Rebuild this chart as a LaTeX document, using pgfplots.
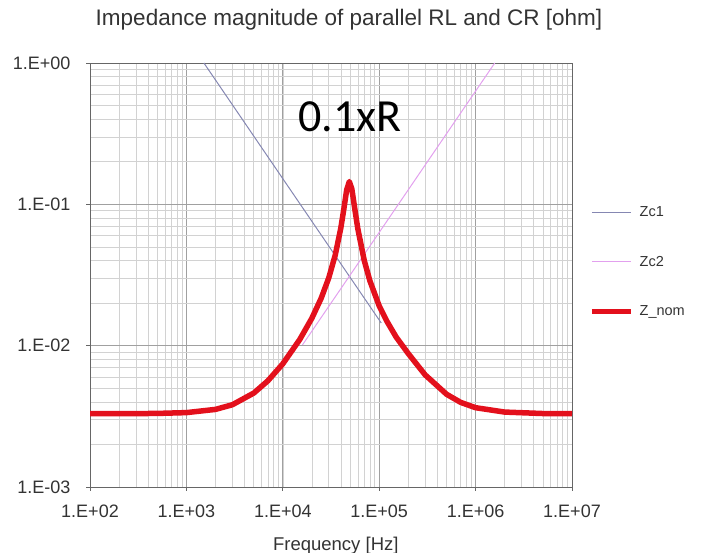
\documentclass[border=0pt]{standalone}
\usepackage{fontspec}
\setmainfont{Liberation Sans}
\newfontfamily\annfont{Carlito}
\usepackage{pgfplots}
\pgfplotsset{compat=1.18}
\definecolor{zred}{HTML}{E3101C}
\definecolor{zcone}{HTML}{8587B2}
\definecolor{zctwo}{HTML}{E2A0EE}
\definecolor{gmaj}{HTML}{A0A0A0}
\definecolor{gmin}{HTML}{D2D2D2}
\definecolor{txt}{HTML}{333333}
\begin{document}
\begin{tikzpicture}[x=1pt,y=1pt]
\path[use as bounding box] (0,0) rectangle (702,553);
\begin{axis}[
  at={(90pt,66pt)}, anchor=south west,
  scale only axis, width=482pt, height=424pt,
  xmode=log, ymode=log,
  xmin=1e2, xmax=1e7, ymin=1e-3, ymax=1,
  xtick={1e2,1e3,1e4,1e5,1e6,1e7},
  xticklabels={1.E+02,1.E+03,1.E+04,1.E+05,1.E+06,1.E+07},
  ytick={1e-3,1e-2,1e-1,1},
  yticklabels={1.E-03,1.E-02,1.E-01,1.E+00},
  grid=both,
  major grid style={gmaj, line width=0.8pt},
  minor grid style={gmin, line width=0.6pt},
  axis line style={gray!80!black, line width=0.8pt},
  tick align=outside, major tick length=4pt, minor tick length=0pt,
  tick style={gray!80!black, line width=0.8pt},
  xtick pos=bottom, ytick pos=left,
  ticklabel style={font=\fontsize{18}{20}\selectfont, text=txt},
  xticklabel style={yshift=-10pt},
  yticklabel style={xshift=-12pt},
  xlabel={Frequency [Hz]},
  xlabel style={font=\fontsize{18.5}{20}\selectfont, text=txt, at={(axis description cs:0.51,-0.138)}, anchor=center},
  legend style={draw=none, fill=none, at={(rel axis cs:1.029,0.531)}, anchor=west,
    font=\fontsize{14.5}{16}\selectfont, text=txt, row sep=34pt, column sep=4pt},
  legend cell align=left,
  legend image code/.code={\draw[#1] (0pt,0pt) -- (39pt,0pt);},
]
\addplot[zcone, line width=1pt] coordinates {
(1519,1) (1e4,0.1519) (9e4,0.016878) (1.05e5,0.014467)
};
\addlegendentry{Zc1}
\addplot[zctwo, line width=1pt] coordinates {
(1.6e4,0.010123) (1e5,0.06327) (1e6,0.6327) (1.5806e6,1)
};
\addlegendentry{Zc2}
\addplot[zred, line width=5.5pt, line join=round] coordinates {
(100,0.00330) (300,0.003306) (500,0.003316) (1000,0.00336) (2000,0.00354) (3000,0.00382)
(5000,0.00462) (7000,0.00564) (10000,0.00744) (15000,0.01106) (20000,0.01562)
(25000,0.02164) (30000,0.03023) (35000,0.04377) (40000,0.0681) (43000,0.0929)
(46000,0.1266) (49000,0.1450) (52000,0.1286) (56000,0.0916) (60000,0.0672)
(70000,0.0400) (80000,0.0288) (100000,0.0191) (120000,0.0149) (150000,0.0115)
(200000,0.0088) (300000,0.00621) (500000,0.00453) (700000,0.00397)
(1000000,0.00364) (2000000,0.00339) (5000000,0.00331) (10000000,0.00330)
};
\addlegendentry{Z\_nom}
\end{axis}
\node[font=\fontsize{22.5}{24}\selectfont, text=txt] at (349pt,533pt) {Impedance magnitude of parallel RL and CR [ohm]};
\node[font=\annfont\fontsize{46}{50}\selectfont, anchor=base] at (350pt,421pt) {0.1xR};
\end{tikzpicture}
\end{document}
